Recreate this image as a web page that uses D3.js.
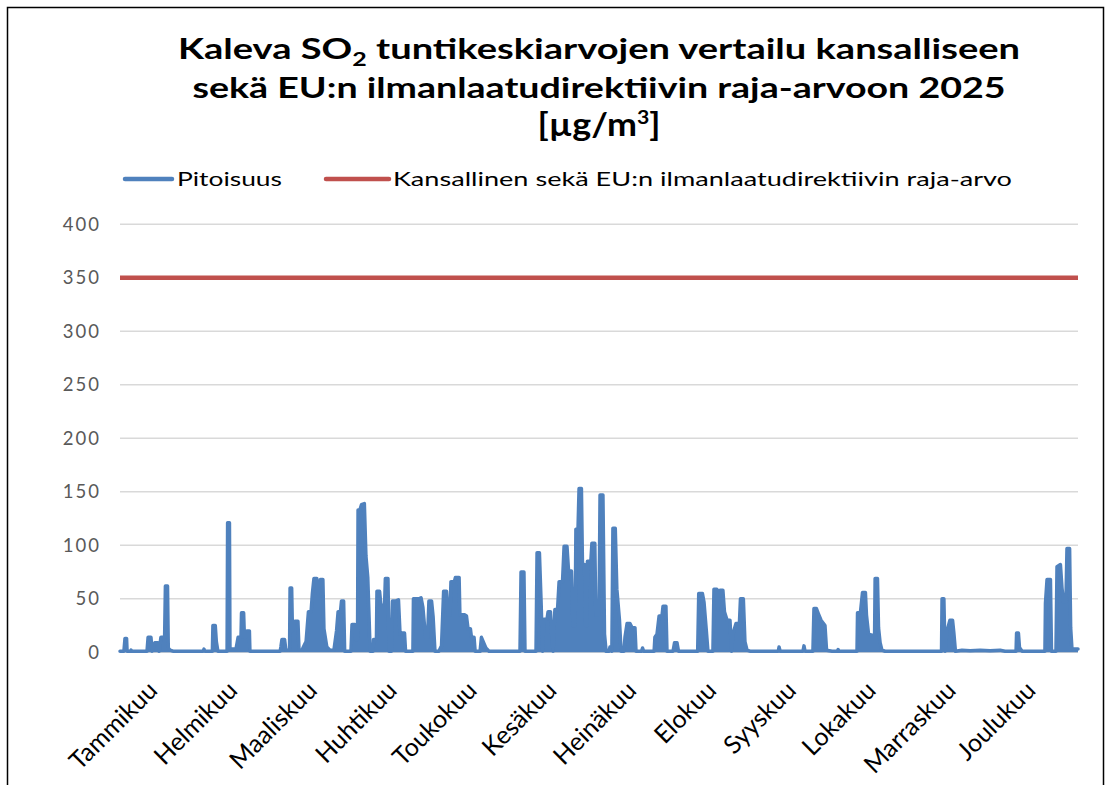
<!DOCTYPE html>
<meta charset="utf-8">
<html>
<head>
    <title>Kaleva SO2 2025</title>
    <script src="https://cdn.jsdelivr.net/npm/d3@7"></script>
    <style>
        body { margin: 0; background: #fff; }
        text { font-family: Lato, "Open Sans", sans-serif; }
    </style>
</head>
<body>
    <div id="chart"></div>
    <script>
        // kuukaudet x-akselille
        var months = ["Tammikuu", "Helmikuu", "Maaliskuu", "Huhtikuu", "Toukokuu", "Kesäkuu",
            "Heinäkuu", "Elokuu", "Syyskuu", "Lokakuu", "Marraskuu", "Joulukuu"];
        var yTicks = [0, 50, 100, 150, 200, 250, 300, 350, 400];
        var rajaArvo = 350;

        // pitoisuus: [päivä vuoden alusta, µg/m3], luettu kuvasta
        var pitoisuus = [
            [0, 1], [1.5, 1], [1.9, 13], [2.5, 13], [2.7, 1], [4.0, 1], [4.2, 2], [4.5, 1],
            [10.3, 1], [10.7, 14], [11.8, 14], [12.2, 1], [13.3, 9], [14.5, 9], [14.9, 1],
            [15.6, 14], [16.8, 14], [17.0, 14], [17.3, 62], [18.1, 62], [18.4, 4], [19.1, 2], [20.2, 1],
            [31.7, 1], [32, 3], [32.3, 1],
            [35.2, 1], [35.4, 25], [36.3, 25], [36.7, 10], [37.3, 1],
            [40.8, 1], [41.0, 121], [41.7, 121], [41.9, 3],
            [44.2, 3], [45.0, 14], [46.1, 14], [46.3, 37], [47.1, 37], [47.4, 14], [48.0, 14],
            [48.4, 20], [49.3, 20], [49.5, 1],
            [61.0, 1], [61.3, 5], [61.7, 12], [62.7, 12], [63.2, 2], [64.6, 2], [64.8, 60], [65.4, 60],
            [65.7, 20], [66.7, 29], [67.8, 29], [68.2, 2], [69.3, 2], [70.1, 6], [70.9, 10],
            [71.8, 38], [72.8, 38], [73.3, 55], [73.9, 69], [75.0, 69], [75.4, 55], [76.4, 68], [77.3, 68],
            [77.7, 22], [78.8, 5], [80.0, 2], [81.5, 2], [82.5, 20], [83.1, 38], [84.0, 38],
            [84.4, 48], [85.2, 48], [85.6, 1], [88.0, 1], [88.4, 26], [89.5, 26], [89.7, 12], [90.5, 12],
            [90.7, 133], [91.4, 133], [92.0, 138], [93.1, 139], [93.7, 90], [94.4, 70], [94.8, 40], [95.3, 1],
            [96.4, 1], [96.6, 12], [97.7, 12], [97.9, 57], [98.9, 57], [99.4, 44], [100.8, 44],
            [101.1, 69], [102.1, 69], [102.5, 1], [103.4, 1], [103.8, 48], [105.2, 48], [106.1, 49],
            [106.7, 17], [107.4, 18], [108.4, 18], [108.8, 1], [111.6, 1], [111.8, 50], [113.9, 50],
            [114.7, 51], [115.4, 42], [116.4, 14], [117.2, 14], [117.7, 48], [118.7, 48], [119.3, 33],
            [120.0, 1], [121.5, 1], [122.5, 6], [123.3, 57], [124.4, 57], [125.0, 35], [125.7, 35],
            [126.1, 66], [127.4, 66], [127.8, 70], [129.2, 70], [129.5, 35], [131.4, 35], [132.0, 34],
            [132.6, 22], [133.5, 22], [133.9, 14], [134.9, 14], [135.3, 1], [137.2, 1], [137.7, 14],
            [138.7, 8], [139.4, 4], [140.6, 1],
            [152.4, 1], [152.8, 75], [153.9, 75], [154.3, 1], [158.5, 1], [158.9, 93], [159.8, 93],
            [160.4, 50], [161.0, 1], [161.5, 31], [162.7, 31], [163.1, 38], [164.0, 38], [164.4, 20],
            [165.0, 1], [165.7, 40], [166.7, 40], [167.3, 66], [168.6, 66], [169.2, 99], [170.3, 99],
            [170.9, 76], [172.0, 76], [172.6, 25], [173.4, 25], [173.7, 115], [174.5, 115], [174.9, 153],
            [175.8, 153], [176.2, 82], [177.0, 82], [177.4, 25], [177.9, 25], [178.1, 85], [179.4, 85],
            [179.8, 102], [180.9, 102], [181.3, 35], [182.5, 35], [182.9, 147], [184.0, 147], [184.6, 17],
            [185.2, 1], [186.3, 1], [186.7, 5], [187.4, 1], [187.8, 116], [188.7, 116], [189.3, 59],
            [190.3, 30], [190.9, 1], [192.0, 1], [192.4, 14], [193.2, 27], [194.3, 27], [195.1, 23],
            [196.2, 23], [196.6, 1], [198.7, 1], [199.1, 4], [199.5, 1],
            [203.5, 1], [203.8, 14], [204.6, 17], [205.4, 34], [206.5, 34], [206.9, 43], [208.0, 43],
            [208.4, 1], [210.7, 1], [211.3, 9], [212.2, 9], [212.8, 1],
            [220.1, 1], [220.5, 55], [221.9, 55], [222.5, 47], [223.4, 20], [224.0, 1], [225.9, 1],
            [226.3, 59], [227.4, 59], [227.8, 40], [228.6, 58], [229.7, 58], [230.3, 38], [231.3, 30],
            [232.4, 30], [233.0, 1], [233.5, 17], [234.7, 27], [236.0, 27], [236.4, 50], [237.5, 50],
            [238.1, 10], [238.9, 2], [240.0, 1],
            [250.8, 1], [251.1, 5], [251.5, 1], [260.2, 1], [260.6, 6], [261.0, 1],
            [264.0, 1], [264.4, 41], [265.3, 41], [266.1, 36], [267.1, 30], [268.6, 25], [269.2, 2],
            [271.3, 1], [273.3, 1], [273.6, 2.5], [273.9, 1], [276.6, 1],
            [280.8, 1], [281.0, 37], [282.1, 37], [282.9, 56], [284.0, 56], [284.4, 35], [285.2, 17],
            [286.5, 16], [287.5, 16], [287.7, 69], [288.6, 69], [289.0, 23], [289.6, 9], [290.3, 2],
            [291.5, 1], [299.1, 1],
            [313.0, 1], [313.2, 50], [313.9, 50], [314.3, 1], [315.1, 20], [316.2, 30], [317.2, 30],
            [317.7, 18], [318.3, 1],
            [320.8, 2], [323.9, 1.5], [327.7, 2], [331.5, 1.5], [335.3, 2], [337.2, 1],
            [341.4, 1], [341.6, 18], [342.3, 18], [342.7, 4.5], [343.7, 1],
            [352.4, 1], [352.6, 46], [353.2, 68], [354.5, 68], [354.9, 1], [356.6, 1], [357.0, 80],
            [358.3, 82], [358.9, 60], [359.5, 47], [360.4, 47], [360.8, 97], [361.8, 97], [362.2, 23],
            [362.7, 3], [365, 3]
        ];

        var width = 1111, height = 785;
        var plot = { left: 120, right: 1078, top: 224.3, bottom: 652.3 };

        var svg = d3.select("#chart").append("svg")
            .attr("width", width)
            .attr("height", height);

        // kehys
        svg.append("rect")
            .attr("x", 7.5).attr("y", 7.5)
            .attr("width", 1096).attr("height", 800)
            .attr("fill", "none")
            .attr("stroke", "#000")
            .attr("stroke-width", 1.5);

        var x = d3.scaleLinear().domain([0, 365]).range([plot.left, plot.right]);
        var y = d3.scaleLinear().domain([0, 400]).range([plot.bottom, plot.top]);

        // otsikko
        var title = svg.append("g")
            .attr("font-weight", "bold")
            .attr("font-size", 29)
            .attr("fill", "#000")
            .attr("text-anchor", "middle");

        var t1 = title.append("text")
            .attr("x", 599).attr("y", 59)
            .attr("textLength", 842).attr("lengthAdjust", "spacingAndGlyphs");
        t1.append("tspan").text("Kaleva SO");
        t1.append("tspan").attr("font-size", 19).attr("dy", 7).text("2");
        t1.append("tspan").attr("dy", -7).text(" tuntikeskiarvojen vertailu kansalliseen");

        title.append("text")
            .attr("x", 599).attr("y", 98)
            .attr("textLength", 813).attr("lengthAdjust", "spacingAndGlyphs")
            .text("sekä EU:n ilmanlaatudirektiivin raja-arvoon 2025");

        var t3 = title.append("text")
            .attr("x", 599).attr("y", 136)
            .attr("font-size", 32)
            .attr("textLength", 123).attr("lengthAdjust", "spacingAndGlyphs");
        t3.append("tspan").text("[µg/m");
        t3.append("tspan").attr("font-size", 19).attr("dy", -12).text("3");
        t3.append("tspan").attr("dy", 12).text("]");

        // selite
        var legend = svg.append("g").attr("font-size", 20).attr("fill", "#000");
        legend.append("line")
            .attr("x1", 125).attr("x2", 172).attr("y1", 179).attr("y2", 179)
            .attr("stroke", "#4F81BD").attr("stroke-width", 4.5).attr("stroke-linecap", "round");
        legend.append("text")
            .attr("x", 177).attr("y", 186)
            .attr("textLength", 105).attr("lengthAdjust", "spacingAndGlyphs")
            .text("Pitoisuus");
        legend.append("line")
            .attr("x1", 326).attr("x2", 389).attr("y1", 179).attr("y2", 179)
            .attr("stroke", "#C0504D").attr("stroke-width", 4.5).attr("stroke-linecap", "round");
        legend.append("text")
            .attr("x", 393).attr("y", 186)
            .attr("textLength", 619).attr("lengthAdjust", "spacingAndGlyphs")
            .text("Kansallinen sekä EU:n ilmanlaatudirektiivin raja-arvo");

        // y-akseli ja ruudukko
        svg.append("g")
            .selectAll("line")
            .data(yTicks)
            .enter()
            .append("line")
            .attr("x1", plot.left).attr("x2", plot.right)
            .attr("y1", d => y(d)).attr("y2", d => y(d))
            .attr("stroke", "#d9d9d9")
            .attr("stroke-width", 1.5);

        svg.append("g")
            .selectAll("text")
            .data(yTicks)
            .enter()
            .append("text")
            .attr("x", 101)
            .attr("y", d => y(d))
            .attr("dy", "0.36em")
            .attr("text-anchor", "end")
            .attr("font-family", "'DejaVu Sans', sans-serif")
            .attr("font-size", 18.5)
            .attr("letter-spacing", 2)
            .attr("fill", "#595959")
            .text(d => d);

        // x-akselin kuukaudet
        var monthStep = (plot.right - plot.left) / months.length;
        svg.append("g")
            .selectAll("text")
            .data(months)
            .enter()
            .append("text")
            .attr("transform", (d, i) => "translate(" + (plot.left + (i + 0.5) * monthStep - 1) + ",692) rotate(-45)")
            .attr("text-anchor", "end")
            .attr("font-size", 25)
            .attr("fill", "#000")
            .text(d => d);

        // raja-arvo
        svg.append("line")
            .attr("x1", plot.left).attr("x2", plot.right)
            .attr("y1", y(rajaArvo)).attr("y2", y(rajaArvo))
            .attr("stroke", "#C0504D")
            .attr("stroke-width", 4.5);

        // pitoisuus: tuntiarvot näkyvät kuvassa täytettyinä piikkeinä
        var area = d3.area()
            .x(d => x(d[0]))
            .y0(y(0))
            .y1(d => y(d[1]));

        var line = d3.line()
            .x(d => x(d[0]))
            .y(d => y(d[1]));

        svg.append("path")
            .datum(pitoisuus)
            .attr("d", area)
            .attr("fill", "#4F81BD");

        svg.append("path")
            .datum(pitoisuus)
            .attr("d", line)
            .attr("fill", "none")
            .attr("stroke", "#4F81BD")
            .attr("stroke-width", 3.5)
            .attr("stroke-linejoin", "round")
            .attr("stroke-linecap", "round");
    </script>
</body>
</html>
